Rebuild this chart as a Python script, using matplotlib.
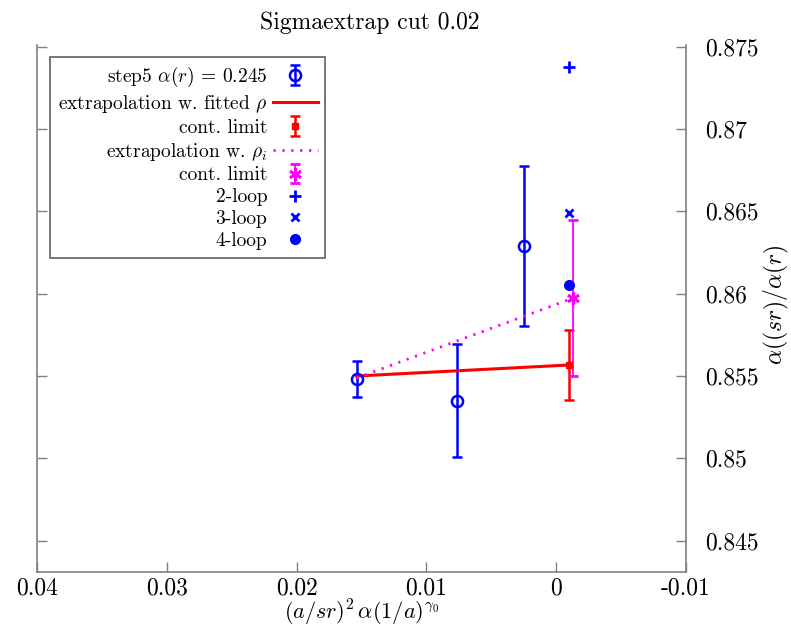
import matplotlib
matplotlib.use("Agg")
import matplotlib.pyplot as plt
from matplotlib.ticker import FuncFormatter, MultipleLocator

plt.rcParams['font.family'] = 'serif'
plt.rcParams['font.serif'] = ['cmr10', 'DejaVu Serif']
plt.rcParams['mathtext.fontset'] = 'cm'
plt.rcParams['axes.unicode_minus'] = False
plt.rcParams['axes.formatter.use_mathtext'] = True

# step5 data points with errors
step5_x = [0.01538, 0.00764, 0.00246]
step5_y = [0.85482, 0.85350, 0.86288]
step5_err = [0.00108, 0.00343, 0.00485]

# extrapolation with fitted rho
fit_x = [0.01538, -0.001]
fit_y = [0.85500, 0.85567]
fit_cont_x = [-0.001]
fit_cont_y = [0.85567]
fit_cont_err = [0.00212]

# extrapolation with rho_i
rhoi_x = [0.01538, -0.0013]
rhoi_y = [0.85488, 0.85973]
rhoi_cont_x = [-0.0013]
rhoi_cont_y = [0.85973]
rhoi_cont_err = [0.00473]

# perturbative values
loop_x = [-0.001]
loop2_y = [0.87379]
loop3_y = [0.86488]
loop4_y = [0.86052]

fig = plt.figure(figsize=(7.91, 6.31), dpi=100)
ax = fig.add_axes([37 / 791, 1 - 572 / 631, 649 / 791, 527 / 631])

handles = []
handles.append(ax.errorbar(step5_x, step5_y, yerr=step5_err, fmt='o', color='#0000ff',
                           mfc='none', ms=8, mew=1.8, elinewidth=1.8, capsize=3.5,
                           capthick=1.8, label=r'step5 $\alpha(r)$ = 0.245'))
handles += ax.plot(fit_x, fit_y, color='#ff0000', lw=2.2,
                   label=r'extrapolation w. fitted $\rho$')
handles.append(ax.errorbar(fit_cont_x, fit_cont_y, yerr=fit_cont_err, fmt='s',
                           color='#ff0000', ms=5, elinewidth=1.8, capsize=3.5,
                           capthick=1.8, label='cont. limit'))
handles += ax.plot(rhoi_x, rhoi_y, color='#ff00ff', lw=2, linestyle=(0, (0.8, 2.4)),
                   label=r'extrapolation w. $\rho_i$')
handles.append(ax.errorbar(rhoi_cont_x, rhoi_cont_y, yerr=rhoi_cont_err, fmt='',
                           linestyle='none', marker=(6, 2, 0), color='#ff00ff', ms=9,
                           mew=2, elinewidth=1.3, capsize=3.5, capthick=1.3,
                           label='cont. limit'))
handles += ax.plot(loop_x, loop2_y, linestyle='none', marker='+', color='#0000ff',
                   ms=8, mew=2, label='2-loop')
handles += ax.plot(loop_x, loop3_y, linestyle='none', marker='x', color='#0000ff',
                   ms=6, mew=2, label='3-loop')
handles += ax.plot(loop_x, loop4_y, linestyle='none', marker='o', color='#0000ff',
                   ms=7, label='4-loop')

ax.set_xlim(0.04, -0.01)
ax.set_ylim(0.8431, 0.8751)
ax.xaxis.set_major_locator(MultipleLocator(0.01))
ax.yaxis.set_major_locator(MultipleLocator(0.005))
fmt = FuncFormatter(lambda v, p: '%g' % round(v, 4))
ax.xaxis.set_major_formatter(fmt)
ax.yaxis.set_major_formatter(fmt)

ax.yaxis.tick_right()
ax.tick_params(axis='y', which='both', left=True, right=True, direction='in',
               length=7, width=1, color='#808080', labelsize=17, pad=14)
ax.tick_params(axis='x', direction='in', length=7, width=1, color='#808080',
               labelsize=17, pad=4, top=False)
ax.spines['top'].set_visible(False)
for s in ['left', 'right', 'bottom']:
    ax.spines[s].set_color('#808080')
    ax.spines[s].set_linewidth(1.2)

fig.text(362 / 791, 1 - 628 / 631, r'$(a/sr)^2\,\alpha(1/a)^{\gamma_0}$', fontsize=16,
         ha='center', va='bottom')
fig.text(776 / 791, 1 - 305 / 631, r'$\alpha((sr)/\alpha(r)$', rotation=90,
         fontsize=17, ha='center', va='center')
fig.text(370 / 791, 1 - 23 / 631, 'Sigmaextrap cut 0.02', fontsize=17, ha='center',
         va='center')

leg = ax.legend(handles=handles, loc='upper left', bbox_to_anchor=(0.02, 0.977),
                borderaxespad=0, markerfirst=False, fontsize=14, frameon=True,
                fancybox=False, framealpha=1, edgecolor='#606060', handlelength=2.3,
                handletextpad=0.3, labelspacing=0.2, borderpad=0.4)
leg.get_frame().set_linewidth(1.2)

fig.savefig('out.png', dpi=100)
